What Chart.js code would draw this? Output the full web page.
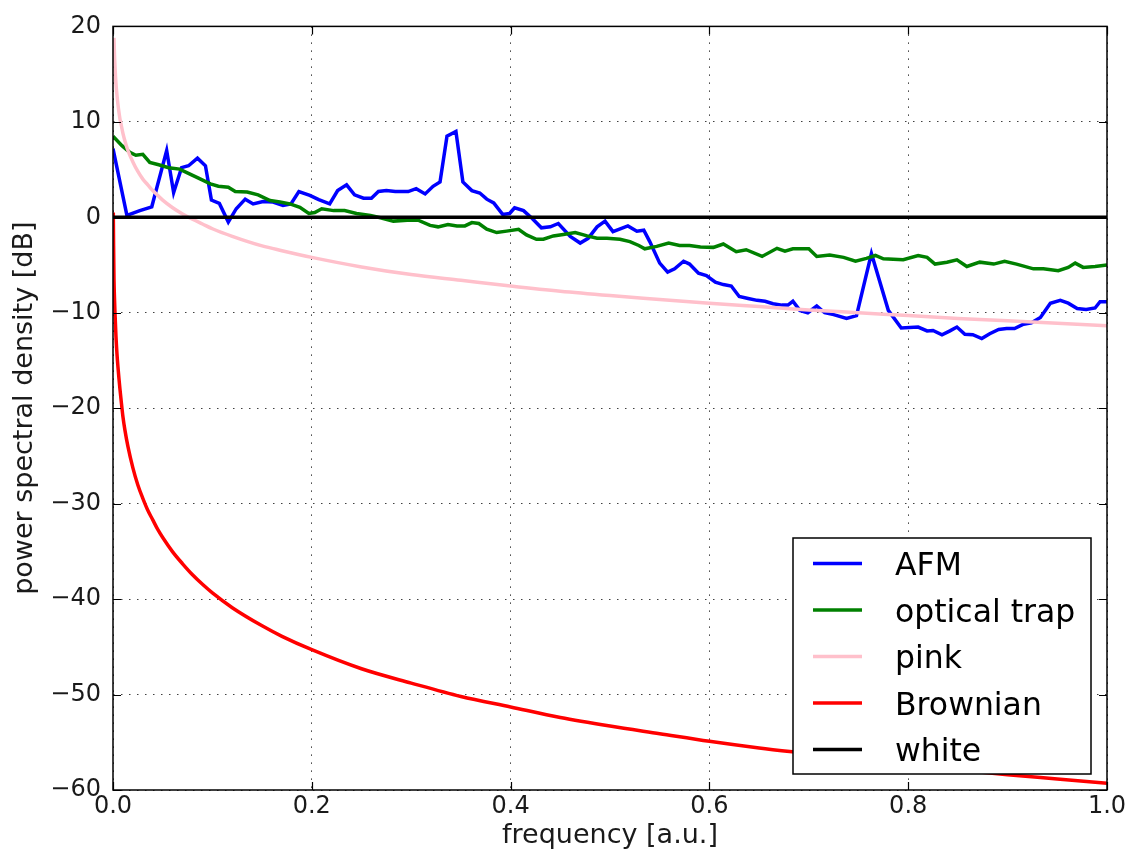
<!DOCTYPE html>
<html>
<head>
<meta charset="utf-8">
<script src="https://cdn.jsdelivr.net/npm/chart.js@4.4.1/dist/chart.umd.min.js"></script>
<style>
  html, body { margin: 0; padding: 0; background: #fff; }
  #wrap { width: 1131px; height: 854px; }
</style>
</head>
<body>
<div id="wrap"><canvas id="c" width="1131" height="854"></canvas></div>
<script>
// ---------- data ----------
const seriesLabels = ['AFM', 'optical trap', 'pink', 'Brownian', 'white'];

const afmFreq = [0.000,0.014,0.027,0.039,0.054,0.061,0.069,0.076,0.085,0.093,0.099,0.107,0.116,0.124,0.133,0.141,0.151,0.161,0.171,0.179,0.187,0.198,0.207,0.218,0.226,0.235,0.243,0.252,0.260,0.267,0.275,0.284,0.297,0.305,0.314,0.322,0.329,0.336,0.345,0.352,0.361,0.369,0.376,0.383,0.392,0.399,0.404,0.413,0.422,0.431,0.440,0.448,0.460,0.470,0.478,0.487,0.495,0.503,0.518,0.527,0.534,0.540,0.550,0.558,0.565,0.574,0.580,0.589,0.597,0.606,0.614,0.622,0.630,0.639,0.648,0.656,0.664,0.673,0.679,0.684,0.691,0.699,0.708,0.716,0.725,0.738,0.748,0.763,0.780,0.793,0.810,0.819,0.825,0.834,0.842,0.849,0.857,0.865,0.874,0.882,0.891,0.899,0.907,0.916,0.924,0.933,0.943,0.953,0.961,0.970,0.979,0.988,0.993,1.000];
const afmPsd = [7.2,0.2,0.7,1.1,7.0,2.6,5.2,5.4,6.2,5.4,1.8,1.45,-0.5,0.9,1.9,1.4,1.65,1.6,1.25,1.4,2.7,2.3,1.85,1.4,2.8,3.4,2.35,2.0,2.0,2.7,2.8,2.7,2.7,3.0,2.45,3.25,3.7,8.5,9.0,3.7,2.8,2.55,1.9,1.5,0.3,0.4,1.0,0.7,-0.15,-1.1,-1.0,-0.65,-2.0,-2.7,-2.2,-1.0,-0.4,-1.5,-0.9,-1.45,-1.35,-2.55,-4.8,-5.75,-5.4,-4.6,-4.9,-5.85,-6.1,-6.8,-7.05,-7.2,-8.3,-8.5,-8.7,-8.8,-9.05,-9.2,-9.2,-8.8,-9.75,-10.0,-9.3,-10.0,-10.2,-10.6,-10.3,-3.8,-9.75,-11.6,-11.5,-11.9,-11.85,-12.3,-11.9,-11.5,-12.25,-12.3,-12.7,-12.2,-11.75,-11.65,-11.65,-11.2,-11.05,-10.5,-9.0,-8.7,-9.0,-9.55,-9.65,-9.5,-8.85,-8.85];

const trapFreq = [0.000,0.009,0.017,0.023,0.030,0.037,0.046,0.056,0.067,0.078,0.086,0.098,0.106,0.116,0.123,0.135,0.146,0.158,0.168,0.178,0.188,0.197,0.203,0.210,0.222,0.233,0.245,0.259,0.269,0.282,0.296,0.307,0.319,0.327,0.337,0.346,0.354,0.361,0.368,0.376,0.386,0.396,0.408,0.416,0.426,0.433,0.443,0.453,0.465,0.477,0.487,0.497,0.510,0.520,0.529,0.535,0.547,0.559,0.570,0.580,0.591,0.604,0.614,0.627,0.637,0.653,0.668,0.676,0.684,0.700,0.708,0.721,0.735,0.747,0.758,0.767,0.775,0.795,0.810,0.819,0.827,0.839,0.849,0.859,0.872,0.886,0.897,0.909,0.926,0.936,0.951,0.961,0.968,0.976,0.988,1.000];
const trapPsd = [8.5,7.5,6.8,6.5,6.6,5.75,5.5,5.2,5.05,4.5,4.1,3.5,3.25,3.15,2.7,2.65,2.35,1.75,1.6,1.4,1.05,0.4,0.5,0.9,0.7,0.7,0.4,0.2,-0.05,-0.4,-0.3,-0.3,-0.85,-1.0,-0.75,-0.9,-0.9,-0.55,-0.65,-1.25,-1.6,-1.45,-1.25,-1.85,-2.3,-2.3,-1.95,-1.8,-1.6,-1.95,-2.2,-2.2,-2.3,-2.55,-2.95,-3.3,-3.05,-2.7,-2.95,-2.95,-3.1,-3.15,-2.8,-3.6,-3.4,-4.1,-3.25,-3.55,-3.3,-3.3,-4.1,-3.95,-4.2,-4.6,-4.3,-4.0,-4.35,-4.45,-4.0,-4.2,-4.9,-4.7,-4.45,-5.15,-4.7,-4.9,-4.6,-4.9,-5.4,-5.4,-5.6,-5.25,-4.8,-5.25,-5.15,-5.0];

const pinkFreq = [0.001,0.0015,0.002,0.003,0.004,0.005,0.006,0.007,0.008,0.01,0.012,0.015,0.02,0.025,0.03,0.035,0.04,0.045,0.05,0.06,0.07,0.08,0.09,0.1,0.12,0.15,0.17,0.2,0.25,0.3,0.35,0.4,0.45,0.5,0.55,0.6,0.65,0.7,0.75,0.8,0.85,0.9,0.95,1.0];
const pinkPsd  = [18.8,17.0,15.8,14.0,12.8,11.8,11.0,10.3,9.8,8.8,8.0,7.0,5.8,4.8,4.0,3.4,2.8,2.3,1.8,1.0,0.35,-0.2,-0.7,-1.2,-2.0,-3.0,-3.5,-4.2,-5.2,-6.0,-6.6,-7.2,-7.75,-8.2,-8.6,-9.0,-9.35,-9.7,-10.0,-10.3,-10.6,-10.85,-11.1,-11.35];

const brownFreq = [0.0003,0.0006,0.001,0.0015,0.002,0.003,0.004,0.005,0.006,0.007,0.008,0.01,0.012,0.015,0.02,0.025,0.03,0.035,0.04,0.045,0.05,0.06,0.07,0.08,0.09,0.1,0.12,0.15,0.17,0.2,0.25,0.3,0.35,0.4,0.45,0.5,0.55,0.6,0.65,0.7,0.75,0.8,0.85,0.9,0.95,1.0];
const brownPsd = [0.5,-3,-6.5,-8.5,-10.0,-12.5,-14.3,-15.7,-16.9,-18.0,-19.0,-20.9,-22.3,-24.0,-26.25,-28.05,-29.45,-30.7,-31.7,-32.7,-33.55,-35.05,-36.3,-37.45,-38.45,-39.35,-40.9,-42.8,-43.9,-45.3,-47.3,-48.8,-50.2,-51.3,-52.4,-53.3,-54.1,-54.9,-55.6,-56.2,-56.8,-57.4,-57.9,-58.4,-58.85,-59.3];

const whiteFreq = [0, 1];
const whitePsd  = [0, 0];

const xTickValues = [0.0, 0.2, 0.4, 0.6, 0.8, 1.0];
const yTickValues = [20, 10, 0, -10, -20, -30, -40, -50, -60];

// ---------- styles ----------
const seriesColors = ['#0000ff', '#008000', '#ffc0cb', '#ff0000', '#000000'];
const smoothSeries = [false, false, true, true, false];
const FONT = "'DejaVu Sans', 'Liberation Sans', sans-serif";

function pts(xs, ys) { return xs.map((x, i) => ({ x: x, y: ys[i] })); }

const seriesData = [
  pts(afmFreq, afmPsd),
  pts(trapFreq, trapPsd),
  pts(pinkFreq, pinkPsd),
  pts(brownFreq, brownPsd),
  pts(whiteFreq, whitePsd)
];

const datasets = seriesLabels.map((lab, i) => {
  const ds = {
    label: lab,
    data: seriesData[i],
    borderColor: seriesColors[i],
    backgroundColor: seriesColors[i],
    borderWidth: 3.5,
    pointRadius: 0,
    tension: 0,
    fill: false,
    order: seriesLabels.length - 1 - i
  };
  if (smoothSeries[i]) ds.cubicInterpolationMode = 'monotone';
  return ds;
});

const framePlugin = {
  id: 'frameAndLegend',
  afterDraw(chart) {
    const { ctx, chartArea: a, scales } = chart;
    const xs = scales.x, ys = scales.y;
    ctx.save();
    // frame
    ctx.strokeStyle = '#000';
    ctx.lineWidth = 1.5;
    ctx.strokeRect(a.left, a.top, a.right - a.left, a.bottom - a.top);
    // inward tick marks on all sides
    ctx.lineWidth = 1.2;
    const tl = 8;
    ctx.beginPath();
    xTickValues.forEach(v => {
      const px = Math.round(xs.getPixelForValue(v)) + 0.5;
      ctx.moveTo(px, a.bottom); ctx.lineTo(px, a.bottom - tl);
      ctx.moveTo(px, a.top); ctx.lineTo(px, a.top + tl);
    });
    yTickValues.forEach(v => {
      const py = Math.round(ys.getPixelForValue(v)) + 0.5;
      ctx.moveTo(a.left, py); ctx.lineTo(a.left + tl, py);
      ctx.moveTo(a.right, py); ctx.lineTo(a.right - tl, py);
    });
    ctx.stroke();

    // legend box
    const bx = 793, by = 538, bw = 298, bh = 236;
    ctx.fillStyle = '#fff';
    ctx.fillRect(bx, by, bw, bh);
    ctx.strokeStyle = '#000';
    ctx.lineWidth = 1.5;
    ctx.strokeRect(bx, by, bw, bh);
    const rowY0 = 563.5, rowStep = 46.5;
    ctx.font = '31.5px ' + FONT;
    ctx.textBaseline = 'alphabetic';
    ctx.textAlign = 'left';
    seriesLabels.forEach((lab, i) => {
      const yy = rowY0 + i * rowStep;
      ctx.strokeStyle = seriesColors[i];
      ctx.lineWidth = 3.5;
      ctx.beginPath();
      ctx.moveTo(813, yy); ctx.lineTo(862, yy);
      ctx.stroke();
      ctx.fillStyle = '#000';
      ctx.fillText(lab, 895, yy + 11.5);
    });
    ctx.restore();
  }
};

const fmtMinus = v => (v < 0 ? '\u2212' + Math.abs(v) : String(v));

new Chart(document.getElementById('c'), {
  type: 'line',
  data: { datasets: datasets },
  options: {
    responsive: false,
    animation: false,
    devicePixelRatio: 1,
    layout: { padding: { top: 20, right: 24, left: 0, bottom: 0 } },
    plugins: { legend: { display: false }, tooltip: { enabled: false } },
    scales: {
      x: {
        type: 'linear',
        min: 0, max: 1,
        afterFit: s => { s.height = 64; },
        afterBuildTicks: s => { s.ticks = xTickValues.map(v => ({ value: v })); },
        ticks: {
          callback: v => Number(v).toFixed(1),
          font: { family: FONT, size: 24 },
          color: '#1a1a1a',
          padding: 2,
          maxRotation: 0,
          autoSkip: false
        },
        grid: { color: 'rgba(0,0,0,0.75)', lineWidth: 1, drawTicks: false },
        border: { display: false, dash: [1.5, 6.5] },
        title: {
          display: true,
          text: 'frequency [a.u.]',
          font: { family: FONT, size: 27 },
          color: '#1a1a1a',
          padding: { top: 0, bottom: 2 }
        }
      },
      y: {
        type: 'linear',
        min: -60, max: 20,
        afterFit: s => { s.width = 113; },
        afterBuildTicks: s => { s.ticks = yTickValues.map(v => ({ value: v })); },
        ticks: {
          callback: v => fmtMinus(v),
          font: { family: FONT, size: 24 },
          color: '#1a1a1a',
          padding: 12,
          autoSkip: false
        },
        grid: { color: 'rgba(0,0,0,0.75)', lineWidth: 1, drawTicks: false },
        border: { display: false, dash: [1.5, 6.5] },
        title: {
          display: true,
          text: 'power spectral density [dB]',
          font: { family: FONT, size: 27 },
          color: '#1a1a1a',
          padding: { top: 9, bottom: 0 }
        }
      }
    }
  },
  plugins: [framePlugin]
});
</script>
</body>
</html>
